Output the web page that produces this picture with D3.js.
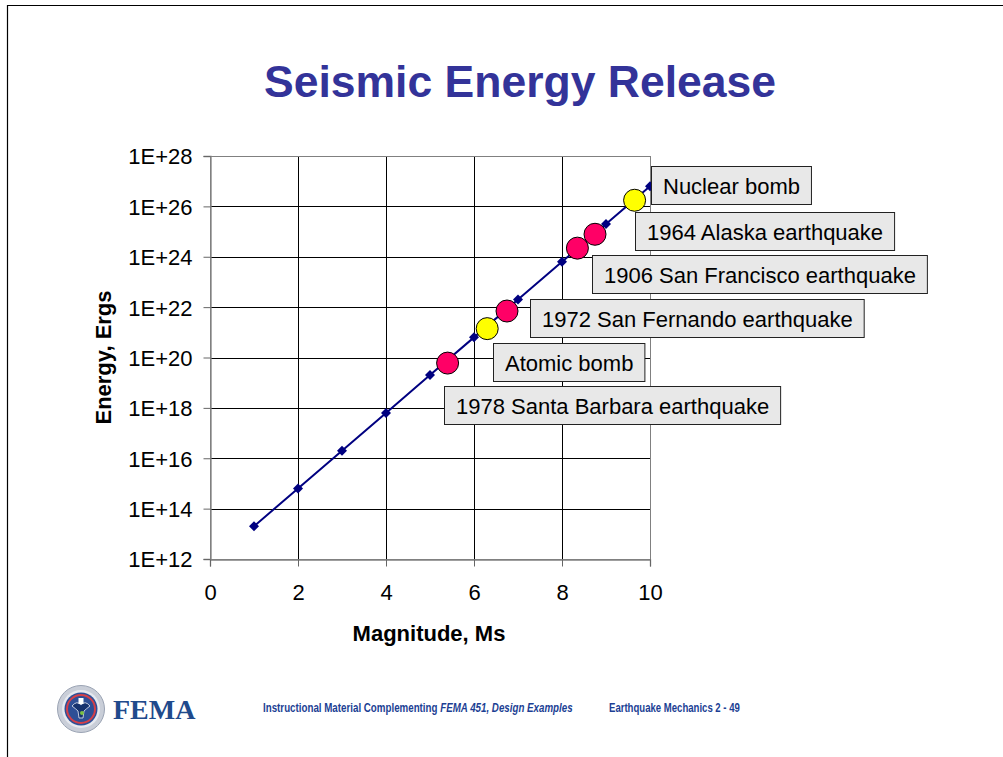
<!DOCTYPE html>
<html>
<head>
<meta charset="utf-8">
<script src="https://cdn.jsdelivr.net/npm/d3@7"></script>
<style>
  html, body { margin: 0; padding: 0; background: #fff; }
  svg { display: block; }
</style>
</head>
<body>
<svg id="slide" width="1003" height="757" font-family="Liberation Sans, Arial, sans-serif"></svg>
<script>
// Magnitude vs. energy curve (log E = 11.8 + 1.5 Ms)
const magnitudes = [1, 2, 3, 4, 5, 6, 7, 8, 9, 10];
const energies = [2e13, 6.3e14, 2e16, 6.3e17, 2e19, 6.3e20, 2e22, 6.3e23, 2e25, 6.3e26];

// Reference events plotted on the curve
const eventNames = [
  "1978 Santa Barbara earthquake",
  "Atomic bomb",
  "1972 San Fernando earthquake",
  "1906 San Francisco earthquake",
  "1964 Alaska earthquake",
  "Nuclear bomb"
];
const eventMagnitudes = [5.4, 6.3, 6.75, 8.35, 8.75, 9.65];
const eventEnergies = [6e19, 1.4e21, 7e21, 2.2e24, 7.8e24, 1.75e26];
const eventKinds = ["quake", "bomb", "quake", "quake", "quake", "bomb"];

// Axis ticks
const xTicks = [0, 2, 4, 6, 8, 10];
const yTicks = [1e12, 1e14, 1e16, 1e18, 1e20, 1e22, 1e24, 1e26, 1e28];

// Callout placement relative to each event marker (dx, dy of box top-left)
const calloutOffsets = [[-4, 23], [6, 14], [23, -12], [15, 7], [40, -22], [16, -34]];

const svg = d3.select("#slide");

// slide frame
svg.append("path")
  .attr("d", "M7.5,757 V5.5 H1003")
  .attr("fill", "none").attr("stroke", "#000").attr("stroke-width", 1.2);

// title
svg.append("text")
  .attr("x", 520).attr("y", 97)
  .attr("text-anchor", "middle")
  .attr("font-size", 44.5).attr("font-weight", "bold")
  .attr("fill", "#333399")
  .text("Seismic Energy Release");

const plot = { left: 210, right: 650, top: 156, bottom: 559 };

const x = d3.scaleLinear().domain([0, 10]).range([plot.left, plot.right]);
const y = d3.scaleLog().domain([1e12, 1e28]).range([plot.bottom, plot.top]);

const g = svg.append("g");

// gridlines
g.append("g").selectAll("line").data(xTicks.slice(1, -1)).join("line")
  .attr("x1", d => x(d) + 0.5).attr("x2", d => x(d) + 0.5)
  .attr("y1", plot.top).attr("y2", plot.bottom)
  .attr("stroke", "#000").attr("stroke-width", 1);
g.append("g").selectAll("line").data(yTicks.slice(1, -1)).join("line")
  .attr("x1", plot.left).attr("x2", plot.right)
  .attr("y1", d => Math.round(y(d)) + 0.5).attr("y2", d => Math.round(y(d)) + 0.5)
  .attr("stroke", "#000").attr("stroke-width", 1);

// plot area border
g.append("rect")
  .attr("x", plot.left + 0.5).attr("y", plot.top + 0.5)
  .attr("width", plot.right - plot.left).attr("height", plot.bottom - plot.top)
  .attr("fill", "none").attr("stroke", "#808080").attr("stroke-width", 1);

// axes
const yAxis = d3.axisLeft(y).tickValues(yTicks)
  .tickFormat(d => "1E+" + Math.round(Math.log10(d)))
  .tickSize(7).tickPadding(11);
const xAxis = d3.axisBottom(x).tickValues(xTicks)
  .tickFormat(d3.format("d"))
  .tickSize(7).tickPadding(22);

const ya = g.append("g").attr("transform", `translate(${plot.left + 0.5},0)`).call(yAxis);
const xa = g.append("g").attr("transform", `translate(0,${plot.bottom + 0.5})`).call(xAxis);
[ya, xa].forEach(a => {
  a.select(".domain").attr("stroke", "#808080").attr("stroke-width", 1.3);
  a.selectAll(".tick line").attr("stroke", "#666").attr("stroke-width", 1);
  a.selectAll(".tick text")
    .attr("font-family", "Liberation Sans, Arial, sans-serif")
    .attr("font-size", 22).attr("fill", "#000");
});
ya.selectAll(".tick text").attr("dy", "0.36em");
xa.selectAll(".tick text").attr("dy", "0.5em");

// axis titles
svg.append("text")
  .attr("transform", `translate(111,${(plot.top + plot.bottom) / 2}) rotate(-90)`)
  .attr("text-anchor", "middle")
  .attr("font-size", 22).attr("font-weight", "bold")
  .text("Energy, Ergs");
svg.append("text")
  .attr("x", (plot.left + plot.right) / 2 - 1).attr("y", 641)
  .attr("text-anchor", "middle")
  .attr("font-size", 22).attr("font-weight", "bold")
  .text("Magnitude, Ms");

// energy curve
const curve = magnitudes.map((m, i) => ({ m, e: energies[i] }));
g.append("path")
  .datum(curve)
  .attr("fill", "none").attr("stroke", "#000080").attr("stroke-width", 2)
  .attr("d", d3.line().x(d => x(d.m)).y(d => y(d.e)));
g.append("g").selectAll("path").data(curve).join("path")
  .attr("d", d3.symbol(d3.symbolSquare, 50))
  .attr("transform", d => `translate(${x(d.m)},${y(d.e)}) rotate(45)`)
  .attr("fill", "#000080");

// event markers
const events = eventNames.map((name, i) => ({
  name, m: eventMagnitudes[i], e: eventEnergies[i], kind: eventKinds[i], off: calloutOffsets[i]
}));
g.append("g").selectAll("circle").data(events).join("circle")
  .attr("cx", d => x(d.m)).attr("cy", d => y(d.e)).attr("r", 11)
  .attr("fill", d => d.kind === "bomb" ? "#ffff00" : "#ff0066")
  .attr("stroke", "#000").attr("stroke-width", 1);

// callouts (drawn top-down so lower boxes sit underneath upper ones)
const callouts = svg.append("g");
events.slice().reverse().forEach(d => {
  const bx = Math.round(x(d.m) + d.off[0]) + 0.5;
  const by = Math.round(y(d.e) + d.off[1]) + 0.5;
  const cg = callouts.append("g");
  const rect = cg.append("rect").attr("x", bx).attr("y", by).attr("height", 38)
    .attr("fill", "#e8e8e8").attr("stroke", "#222").attr("stroke-width", 1);
  const t = cg.append("text").attr("x", bx + 11.5).attr("y", by + 27)
    .attr("font-size", 22).attr("fill", "#000").text(d.name);
  rect.attr("width", t.node().getComputedTextLength() + 23);
});

// footer
const footColor = "#1c3f94";
function squeezed(parent, xPos, yPos, targetWidth, build) {
  const wrap = parent.append("g");
  const inner = wrap.append("g");
  build(inner);
  const w = inner.node().getBBox().width;
  wrap.attr("transform", `translate(${xPos},${yPos}) scale(${targetWidth / w},1)`);
  return wrap;
}
squeezed(svg, 263, 712, 310, sel => {
  const t = sel.append("text").attr("x", 0).attr("y", 0)
    .attr("font-size", 12.5).attr("font-weight", "bold").attr("fill", footColor);
  t.append("tspan").text("Instructional Material Complementing ");
  t.append("tspan").attr("font-style", "italic").text("FEMA 451, Design Examples");
});
squeezed(svg, 609, 712, 131, sel => {
  sel.append("text").attr("x", 0).attr("y", 0)
    .attr("font-size", 12.5).attr("font-weight", "bold").attr("fill", footColor)
    .text("Earthquake Mechanics 2 - 49");
});

// agency seal and wordmark
const defs = svg.append("defs");
defs.append("filter").attr("id", "soft").append("feGaussianBlur").attr("stdDeviation", 0.7);
const seal = svg.append("g").attr("transform", "translate(81,709)").attr("filter", "url(#soft)");
seal.append("circle").attr("r", 23.5).attr("fill", "#c9ced8").attr("stroke", "#9aa3b3");
seal.append("circle").attr("r", 19).attr("fill", "#e6e9ef");
seal.append("circle").attr("r", 16.5).attr("fill", "#2d4f96");
seal.append("circle").attr("r", 14).attr("fill", "none").attr("stroke", "#d4404a").attr("stroke-width", 2);
seal.append("path").attr("d", "M-9,-3 Q-4,-9 0,-4 Q4,-9 9,-3 Q5,0 3,2 L2,9 L-2,9 L-3,2 Q-5,0 -9,-3Z")
  .attr("fill", "#15306e").attr("stroke", "#e8ecf4").attr("stroke-width", 0.8);
seal.append("rect").attr("x", -2.5).attr("y", -11).attr("width", 5).attr("height", 6).attr("fill", "#fff");
seal.append("circle").attr("cx", 1).attr("cy", 4).attr("r", 2).attr("fill", "#7bc043");
svg.append("text").attr("x", 113).attr("y", 719)
  .attr("font-family", "Liberation Serif, Times New Roman, serif")
  .attr("font-size", 28).attr("font-weight", "bold").attr("fill", "#1f4a8c")
  .text("FEMA");
</script>
</body>
</html>
